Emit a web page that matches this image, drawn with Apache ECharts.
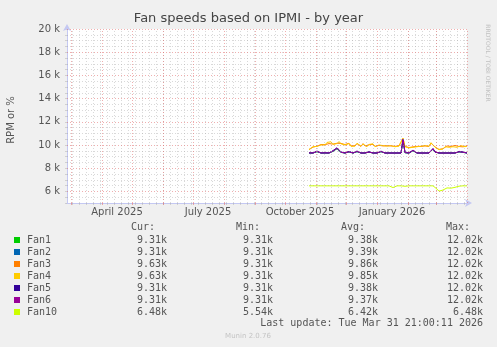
<!DOCTYPE html>
<html><head><meta charset="utf-8">
<script src="https://cdn.jsdelivr.net/npm/echarts@6/dist/echarts.min.js"></script>
<style>html,body{margin:0;padding:0;background:#f0f0f0;}#c{width:497px;height:347px;}</style>
</head><body><div id="c"></div>
<script>
// ---- data ----
const seriesNames = ['Fan1', 'Fan2', 'Fan3', 'Fan4', 'Fan5', 'Fan6', 'Fan10'];
const firstSampleDate = '2025-10-25';   // samples every 2 days
const sampleStepDays = 2;
// values in k RPM
const fan1 = [
9.31,9.31,9.31,9.31,9.42,9.36,9.31,9.31,9.31,9.31,
9.31,9.34,9.45,9.58,9.68,9.52,9.36,9.31,9.31,9.31,
9.40,9.31,9.31,9.34,9.42,9.31,9.31,9.31,9.31,9.36,
9.38,9.31,9.31,9.31,9.31,9.36,9.42,9.38,9.31,9.38,
9.31,9.31,9.31,9.31,9.31,9.31,9.31,10.45,9.33,9.31,
9.31,9.38,9.50,9.43,9.31,9.31,9.31,9.31,9.31,9.31,
9.31,9.43,9.64,9.38,9.31,9.31,9.31,9.31,9.31,9.31,
9.31,9.31,9.31,9.31,9.31,9.40,9.52,9.36,9.31,9.31];
const fan2 = [
9.31,9.31,9.31,9.31,9.43,9.36,9.31,9.31,9.31,9.31,
9.31,9.35,9.46,9.60,9.70,9.53,9.37,9.31,9.31,9.31,
9.41,9.31,9.31,9.35,9.43,9.31,9.31,9.31,9.31,9.37,
9.39,9.32,9.31,9.31,9.31,9.37,9.43,9.39,9.31,9.39,
9.31,9.31,9.31,9.31,9.31,9.31,9.31,10.46,9.34,9.31,
9.31,9.39,9.51,9.44,9.31,9.31,9.31,9.31,9.31,9.31,
9.31,9.44,9.65,9.39,9.31,9.31,9.31,9.31,9.31,9.31,
9.31,9.31,9.31,9.31,9.31,9.41,9.53,9.37,9.31,9.31];
const fan3 = [
9.60,9.72,9.82,9.98,9.90,10.02,10.04,10.12,10.03,10.18,
10.12,10.25,10.08,10.16,10.15,10.26,10.14,10.18,10.04,9.92,
10.15,9.92,10.02,9.94,10.12,10.04,9.88,10.12,9.92,9.88,
10.02,9.94,10.06,9.88,9.98,9.97,10.14,9.92,10.08,9.94,
9.84,9.92,10.02,9.88,9.97,9.94,9.92,10.55,9.88,9.92,
9.78,9.87,9.84,9.92,9.88,9.78,9.87,9.84,9.92,9.88,
9.87,10.16,10.14,9.84,9.68,9.62,9.68,9.68,9.82,9.92,
9.84,9.87,9.88,9.96,9.84,9.87,9.92,9.84,9.82,9.92];
const fan4 = [
9.62,9.70,9.85,9.95,9.88,10.05,10.00,10.15,10.00,10.22,
10.08,10.28,10.05,10.20,10.12,10.30,10.10,10.22,10.00,9.95,
10.12,9.88,10.05,9.90,10.15,10.00,9.90,10.08,9.95,9.85,
10.05,9.90,10.10,9.85,9.95,10.00,10.10,9.95,10.12,9.90,
9.80,9.95,10.05,9.85,10.00,9.90,9.95,10.60,9.85,9.95,
9.75,9.90,9.80,9.95,9.85,9.75,9.90,9.80,9.95,9.85,
9.90,10.20,10.10,9.80,9.65,9.60,9.70,9.65,9.85,9.95,
9.80,9.90,9.85,10.00,9.80,9.90,9.95,9.80,9.85,9.90];
const fan5 = [
9.33,9.31,9.31,9.31,9.48,9.40,9.31,9.31,9.33,9.31,
9.31,9.38,9.52,9.66,9.76,9.58,9.40,9.31,9.31,9.34,
9.45,9.31,9.31,9.38,9.48,9.31,9.31,9.31,9.31,9.40,
9.42,9.34,9.31,9.31,9.31,9.40,9.47,9.42,9.31,9.42,
9.31,9.31,9.31,9.31,9.31,9.31,9.31,10.48,9.36,9.31,
9.31,9.42,9.56,9.47,9.31,9.31,9.31,9.31,9.31,9.31,
9.31,9.48,9.70,9.42,9.31,9.31,9.31,9.31,9.31,9.31,
9.31,9.31,9.31,9.31,9.31,9.45,9.58,9.40,9.31,9.31];
const fan6 = [
9.33,9.31,9.31,9.31,9.45,9.38,9.31,9.31,9.32,9.31,
9.31,9.36,9.48,9.62,9.72,9.55,9.38,9.31,9.31,9.33,
9.42,9.31,9.31,9.36,9.45,9.31,9.31,9.31,9.31,9.38,
9.40,9.33,9.31,9.31,9.31,9.38,9.44,9.40,9.31,9.40,
9.31,9.31,9.31,9.31,9.31,9.31,9.31,10.50,9.35,9.31,
9.31,9.40,9.53,9.45,9.31,9.31,9.31,9.31,9.31,9.31,
9.31,9.45,9.67,9.40,9.31,9.31,9.31,9.31,9.31,9.31,
9.31,9.31,9.31,9.31,9.31,9.42,9.55,9.38,9.31,9.31];
const fan10 = [
6.48,6.48,6.48,6.48,6.48,6.48,6.48,6.48,6.48,6.48,
6.48,6.48,6.48,6.48,6.48,6.48,6.48,6.48,6.48,6.48,
6.48,6.48,6.48,6.48,6.48,6.48,6.48,6.48,6.48,6.48,
6.48,6.48,6.48,6.48,6.48,6.48,6.48,6.48,6.48,6.48,
6.48,6.40,6.33,6.45,6.48,6.38,6.48,6.48,6.44,6.48,
6.48,6.48,6.48,6.48,6.48,6.48,6.48,6.48,6.48,6.48,
6.48,6.48,6.48,6.42,6.20,6.02,6.00,6.12,6.15,6.30,
6.35,6.28,6.38,6.35,6.42,6.45,6.48,6.48,6.48,6.48];
const seriesValues = [fan1, fan2, fan3, fan4, fan5, fan6, fan10];

const statCur = ['9.31k', '9.31k', '9.63k', '9.63k', '9.31k', '9.31k', '6.48k'];
const statMin = ['9.31k', '9.31k', '9.31k', '9.31k', '9.31k', '9.31k', '5.54k'];
const statAvg = ['9.38k', '9.39k', '9.86k', '9.85k', '9.38k', '9.37k', '6.42k'];
const statMax = ['12.02k', '12.02k', '12.02k', '12.02k', '12.02k', '12.02k', '6.48k'];
const statHeaders = ['Cur:', 'Min:', 'Avg:', 'Max:'];

const yLabelValues = [6000, 8000, 10000, 12000, 14000, 16000, 18000, 20000];
const xLabelDates = ['2025-04-16', '2025-07-16', '2025-10-16', '2026-01-16'];
const monthNames = ['January','February','March','April','May','June','July','August','September','October','November','December'];
const graphEnd = '2026-04-01';
const graphDays = 400;
const titleText = 'Fan speeds based on IPMI - by year';
const yAxisTitle = 'RPM or %';
const lastUpdate = 'Last update: Tue Mar 31 21:00:11 2026';
const sideText = 'RRDTOOL / TOBI OETIKER';
const footerText = 'Munin 2.0.76';

// ---- styles ----
const colors = ['#00CC00', '#0066B3', '#FF8000', '#FFCC00', '#330099', '#990099', '#CCFF00'];
const DAY = 86400000;
const ts = s => Date.parse(s + 'T00:00:00Z');
const xEnd = ts(graphEnd);
const xStart = xEnd - graphDays * DAY;
const majorColor = 'rgba(225,110,110,0.55)';
const minorColor = 'rgba(160,160,160,0.4)';
const axisColor = '#c4c8f2';

// grid line positions (axis ticks)
const monthLines = [];
{
  const d = new Date(xStart);
  let y = d.getUTCFullYear(), m = d.getUTCMonth() + 1;
  while (true) {
    const t = Date.UTC(y, m, 1);
    if (t > xEnd) break;
    monthLines.push(t);
    m++;
  }
}
const weekLines = [];
{
  let t = ts('2025-03-02'); // Sunday
  while (t > xStart) t -= 7 * DAY;
  t += 7 * DAY;
  for (; t <= xEnd; t += 7 * DAY) weekLines.push(t);
}
const yMinorLines = [], yMajorLines = [];
for (let v = 5500; v <= 20000; v += 500) (v % 2000 === 0 ? yMajorLines : yMinorLines).push(v);

const dash = (c, d) => ({ color: c, width: 1, type: d });
const markData = [].concat(
  weekLines.map(t => ({ xAxis: t, lineStyle: dash(minorColor, [1, 2]) })),
  yMinorLines.map(v => ({ yAxis: v, lineStyle: dash(minorColor, [1, 2]) })),
  monthLines.map(t => ({ xAxis: t, lineStyle: dash(majorColor, [1, 2]) })),
  yMajorLines.map(v => ({ yAxis: v, lineStyle: dash(majorColor, [1, 2]) }))
);

const t0 = ts(firstSampleDate);
const series = seriesNames.map((n, k) => ({
  name: n, type: 'line', z: 3,
  data: seriesValues[k].map((v, i) => [t0 + i * sampleStepDays * DAY, v * 1000]),
  showSymbol: false, symbol: 'none',
  lineStyle: { width: 1, color: colors[k] },
  itemStyle: { color: colors[k] },
  emphasis: { disabled: true }
}));
series.unshift({
  name: '_grid', type: 'line', data: [], z: 1, silent: true,
  markLine: { silent: true, symbol: ['none', 'none'], animation: false, label: { show: false },
    emphasis: { disabled: true }, data: markData }
});

const mono = 'DejaVu Sans Mono';
const graphic = [];
const txt = (text, x, y, align, extra) => ({
  type: 'text', x: x, y: y, silent: true,
  style: Object.assign({ text: text, align: align, textAlign: align, verticalAlign: 'middle', textVerticalAlign: 'middle',
    fontFamily: mono, fontSize: 10, fill: '#555' }, extra || {})
});
const colRight = [167, 273, 378, 483];
const headRight = [155, 260, 365, 470];
statHeaders.forEach((h, j) => graphic.push(txt(h, headRight[j], 227, 'right')));
[statCur, statMin, statAvg, statMax].forEach((col, j) => {
  col.forEach((v, r) => graphic.push(txt(v, colRight[j], 240 + 12 * r, 'right')));
});
graphic.push(txt(lastUpdate, 483, 323, 'right'));
graphic.push(txt(footerText, 248, 336, 'center', { fontFamily: 'DejaVu Sans', fontSize: 7, fill: '#c4c4c4' }));
graphic.push(txt(yAxisTitle, 11, 120, 'center', { fontFamily: 'DejaVu Sans', fontSize: 10, fill: '#555' }));
graphic[graphic.length - 1].rotation = Math.PI / 2;
graphic.push(txt(sideText, 488, 63, 'center', { fontFamily: 'DejaVu Sans', fontSize: 6, fill: '#c0c0c0' }));
graphic[graphic.length - 1].rotation = -Math.PI / 2;

const chart = echarts.init(document.getElementById('c'), null, { renderer: 'canvas' });
chart.setOption({
  animation: false,
  backgroundColor: '#f0f0f0',
  title: { text: titleText, left: 'center', top: 12, padding: 0,
    textStyle: { fontFamily: 'DejaVu Sans', fontSize: 13, lineHeight: 14, fontWeight: 'normal', color: '#444' } },
  grid: { left: 67, top: 29, width: 400, height: 174, show: true, backgroundColor: '#ffffff', borderWidth: 0 },
  legend: { data: seriesNames, orient: 'vertical', left: 14, top: 234, itemWidth: 6, itemHeight: 6, itemGap: 0,
    icon: 'rect', selectedMode: false, padding: 0,
    textStyle: { fontFamily: mono, fontSize: 10, color: '#555', lineHeight: 12, padding: [0, 0, 0, 2] } },
  xAxis: [{
    type: 'value', min: xStart, max: xEnd,
    axisLine: { show: true, lineStyle: { color: axisColor }, symbol: ['none', 'arrow'], symbolSize: [6, 7], symbolOffset: [0, 5] },
    axisTick: { show: true, customValues: weekLines, length: 2, lineStyle: { color: minorColor } },
    axisLabel: { customValues: xLabelDates.map(ts), margin: 4, color: '#555', fontFamily: 'DejaVu Sans', fontSize: 10,
      formatter: v => { const d = new Date(v); return monthNames[d.getUTCMonth()] + ' ' + d.getUTCFullYear(); } },
    splitLine: { show: false }
  }, {
    type: 'value', min: xStart, max: xEnd, position: 'bottom',
    axisLine: { show: false },
    axisTick: { show: true, customValues: monthLines, length: 2, lineStyle: { color: majorColor } },
    axisLabel: { show: false }, splitLine: { show: false }
  }],
  yAxis: [{
    type: 'value', min: 5000, max: 20000, interval: 500,
    axisLine: { show: true, lineStyle: { color: axisColor }, symbol: ['none', 'arrow'], symbolSize: [6, 7], symbolOffset: [0, 5] },
    axisTick: { show: true, length: 2, lineStyle: { color: minorColor } },
    axisLabel: { customValues: yLabelValues, formatter: v => (v / 1000) + ' k', margin: 7, color: '#555',
      fontFamily: 'DejaVu Sans', fontSize: 10 },
    splitLine: { show: false }
  }],
  series: series,
  graphic: graphic
});
</script>
</body></html>
